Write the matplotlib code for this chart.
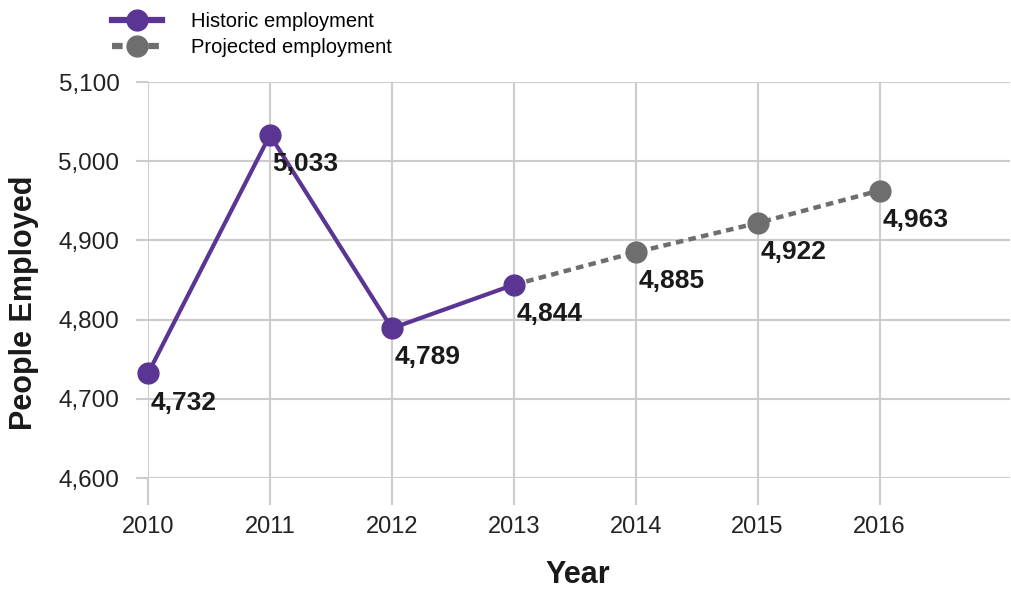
import matplotlib
matplotlib.use("Agg")
import matplotlib.pyplot as plt

plt.rcParams['font.family'] = ['Liberation Sans', 'DejaVu Sans']

years_hist = [2010, 2011, 2012, 2013]
emp_hist = [4732, 5033, 4789, 4844]
years_proj = [2013, 2014, 2015, 2016]
emp_proj = [4844, 4885, 4922, 4963]
yticks = [4600, 4700, 4800, 4900, 5000, 5100]
xticks = [2010, 2011, 2012, 2013, 2014, 2015, 2016]

purple = '#5b3593'
gray = '#6e6e6e'
grid_c = '#cccccc'

fig = plt.figure(figsize=(10.11, 5.90), dpi=100)
ax = fig.add_axes([148 / 1011, 1 - 478 / 590, (1010 - 148) / 1011, (478 - 82) / 590])

ax.plot(years_proj, emp_proj, color=gray, lw=3.2, dashes=(1.7, 1.2),
        marker='o', ms=15, markevery=[1, 2, 3], label='Projected employment',
        zorder=3, clip_on=False)
ax.plot(years_hist, emp_hist, color=purple, lw=3, marker='o', ms=15,
        label='Historic employment', zorder=4, clip_on=False)

# value labels
for x, y in list(zip(years_hist, emp_hist)) + list(zip(years_proj[1:], emp_proj[1:])):
    ax.annotate(f'{y:,}', (x, y), xytext=(2, -26), textcoords='offset points',
                ha='left', va='baseline', fontsize=19, fontweight='bold',
                color='#1a1a1a', zorder=5)

ax.set_xlim(2010, 2017.07)
ax.set_ylim(4600, 5100)
ax.set_xticks(xticks)
ax.set_yticks(yticks)
ax.set_yticklabels([f'{v:,}' for v in yticks])
ax.grid(True, color=grid_c, lw=1.5)
ax.set_axisbelow(True)
for s in ax.spines.values():
    s.set_visible(False)
ax.tick_params(axis='x', length=19.5, width=1.5, color=grid_c, pad=8,
               labelsize=17, labelcolor='#222222')
ax.tick_params(axis='y', length=8.6, width=1.5, color=grid_c, pad=12,
               labelsize=17.5, labelcolor='#222222')

fig.text(578 / 1011, 1 - 583 / 590, 'Year', ha='center', va='baseline',
         fontsize=22, fontweight='bold', color='#1a1a1a')
fig.text(24 / 1011, 1 - 303 / 590, 'People Employed', ha='center', va='center',
         rotation=90, fontsize=22, fontweight='bold', color='#1a1a1a')

h, l = ax.get_legend_handles_labels()
leg = fig.legend(h[::-1], l[::-1], loc='upper left', bbox_to_anchor=(100 / 1011, 1.0),
                 frameon=False, fontsize=14.5, handlelength=2.5, handletextpad=1.4,
                 labelspacing=0.35, borderaxespad=0.2, markerscale=1.0)
for line in leg.get_lines():
    line.set_linewidth(4.5)

fig.savefig('out.png', dpi=100)
